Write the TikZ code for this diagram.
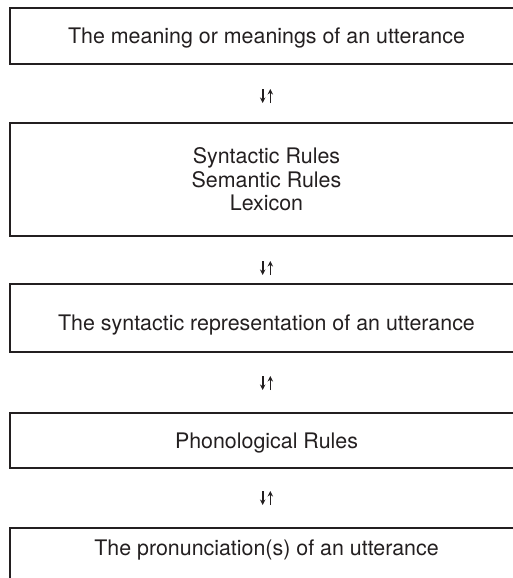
\documentclass[tikz,border=0pt]{standalone}
\usepackage{fontspec}
\setmainfont{TeX Gyre Heros}
\usetikzlibrary{positioning,calc,arrows.meta}
\definecolor{inkgray}{HTML}{231F20}
\tikzset{
  stage/.style={draw=inkgray, line width=1.2pt, minimum width=513pt, inner sep=0pt,
    text=inkgray, font=\fontsize{21.4}{23.5}\selectfont},
  oneline/.style={text height=15.3pt, text depth=0pt},
  flow/.style={-{Stealth[length=5.5pt,width=5.5pt]}, line width=1.6pt, draw=inkgray}
}
\begin{document}
\begin{tikzpicture}[x=1pt,y=-1pt]
\useasboundingbox (0,0) rectangle (513,578);

\node[stage,oneline,minimum height=56pt] (meaning) at (266.5,36) {The meaning or meanings of an utterance};
\node[stage,align=center,minimum height=113pt] (rules) at (266.5,179.5) {Syntactic Rules\\Semantic Rules\\Lexicon};
\node[stage,oneline,text height=25.3pt,minimum height=68pt] (syntax) at (266.5,318) {The syntactic representation of an utterance};
\node[stage,oneline,minimum height=55pt] (phon) at (266.5,440.5) {Phonological Rules};
\node[stage,oneline,text depth=30pt,minimum height=70pt] (pron) at (266.5,563) {The pronunciation(s) of an utterance};

% double arrows between the stages
\foreach \a/\b/\s in {meaning/rules/2.5,rules/syntax/8,syntax/phon/0.5,phon/pron/0}{
  \coordinate (mid) at ($(\a.south)!0.5!(\b.north)+(0,\s)$);
  \draw[flow] ($(mid)+(-3.8,-7)$) -- ($(mid)+(-3.8,7)$);
  \draw[flow] ($(mid)+(3.8,7)$) -- ($(mid)+(3.8,-7)$);
}

\end{tikzpicture}
\end{document}
